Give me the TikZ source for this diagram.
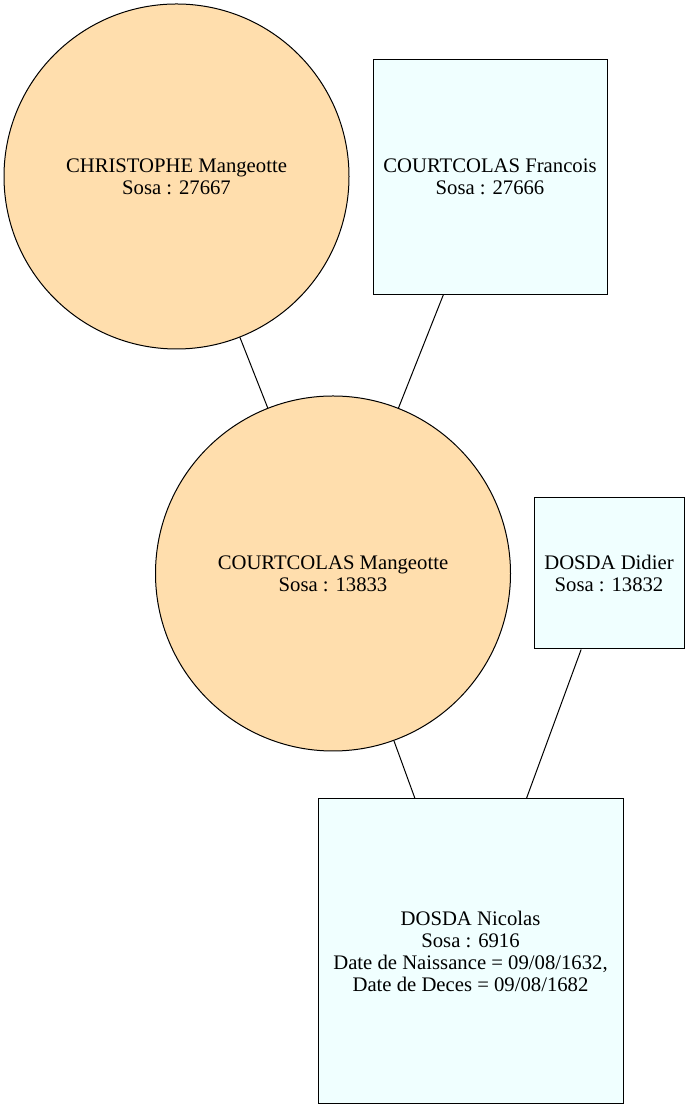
\documentclass[tikz,border=0pt]{standalone}
\usepackage{fontspec}
\setmainfont{Liberation Serif}
\definecolor{navajo}{HTML}{FFDEAD}
\definecolor{azurebox}{HTML}{F0FFFF}
\begin{document}
\begin{tikzpicture}[x=1pt,y=1pt,
  person/.style={draw=black, line width=1pt, inner sep=0pt, align=center,
    font=\fontsize{20.7}{22.2}\selectfont},
  female/.style={person, circle, fill=navajo},
  male/.style={person, rectangle, fill=azurebox},
  link/.style={draw=black, line width=1pt}]
\useasboundingbox[fill=white] (0,0) rectangle (690,1110);
\node[female, minimum size=345pt] (cm) at (176.5,933.5) {CHRISTOPHE Mangeotte\\Sosa : 27667};
\node[male, minimum width=234pt, minimum height=235pt] (cf) at (490,933.25) {COURTCOLAS Francois\\Sosa : 27666};
\node[female, minimum size=355pt] (cma) at (333,536.5) {COURTCOLAS Mangeotte\\Sosa : 13833};
\node[male, minimum width=150pt, minimum height=151pt] (dd) at (609,536.5) {DOSDA Didier\\Sosa : 13832};
\node[male, minimum width=305pt, minimum height=305pt] (dn) at (470.5,158.5) {DOSDA Nicolas\\Sosa : 6916\\Date de Naissance = 09/08/1632,\\Date de Deces = 09/08/1682};
\draw[link] (cm) -- (cma);
\draw[link] (cf) -- (cma);
\draw[link] (cma) -- (dn);
\draw[link] (dd) -- (dn);
\end{tikzpicture}
\end{document}
